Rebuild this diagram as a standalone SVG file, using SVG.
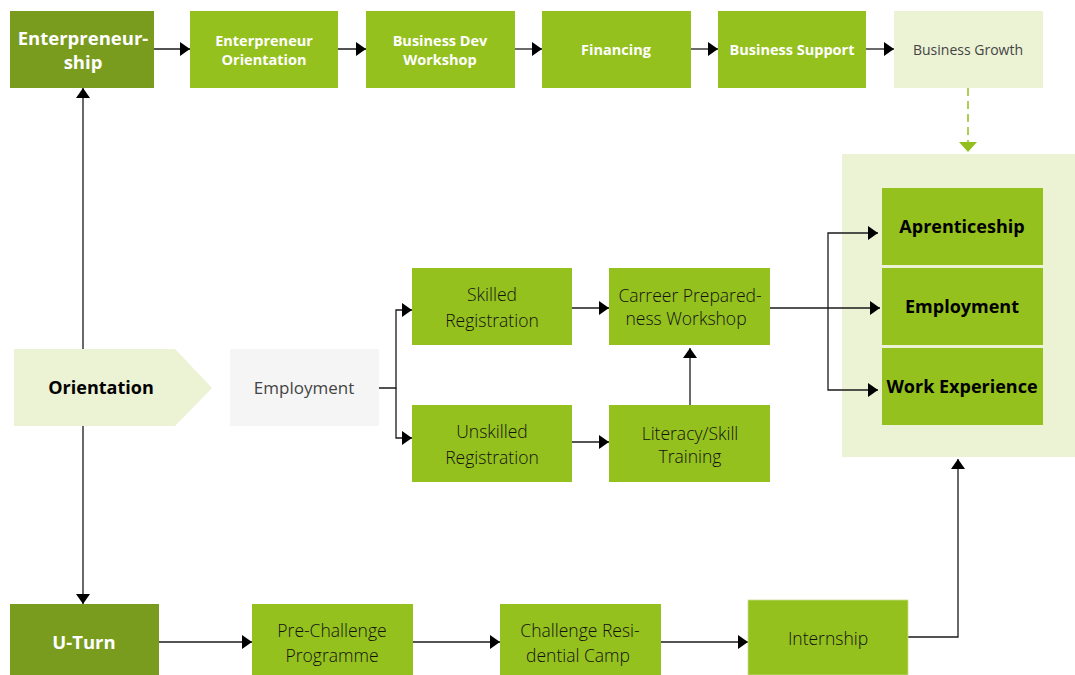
<svg xmlns="http://www.w3.org/2000/svg" width="1075" height="675" viewBox="0 0 1075 675">
<defs>
<marker id="ah" viewBox="0 0 10 14" refX="10" refY="7" markerWidth="10" markerHeight="14" orient="auto" markerUnits="userSpaceOnUse"><path d="M0,0 L10,7 L0,14 z" fill="#000"/></marker>
<marker id="ahg" viewBox="0 0 10 18" refX="10" refY="9" markerWidth="10" markerHeight="18" orient="auto" markerUnits="userSpaceOnUse"><path d="M0,0 L10,9 L0,18 z" fill="#93c01f"/></marker>
</defs>
<style>
.dark{fill:#7a9c1e}
.green{fill:#94c11e}
.light{fill:#ecf2d4}
.grey{fill:#f5f5f5}
text{font-family:"Open Sans","Liberation Sans",sans-serif;text-anchor:middle}
.wb{fill:#fff;font-weight:700;font-size:14.5px}
.wbl{fill:#fff;font-weight:700;font-size:18.5px}
.kb{fill:#000;font-weight:700;font-size:18px}
.t{fill:#111;font-weight:300;font-size:17.5px}
.g{fill:#444;font-size:14px}
.c{fill:none;stroke:#1a1a1a;stroke-width:1.3}
</style>
<rect id="container" class="light" x="842" y="154" width="233" height="303"/>
<g id="connectors">
<line class="c" x1="154" y1="49" x2="190" y2="49" marker-end="url(#ah)"/>
<line class="c" x1="328" y1="49" x2="366" y2="49" marker-end="url(#ah)"/>
<line class="c" x1="515" y1="49" x2="542" y2="49" marker-end="url(#ah)"/>
<line class="c" x1="691" y1="49" x2="718" y2="49" marker-end="url(#ah)"/>
<line class="c" x1="866" y1="49" x2="894" y2="49" marker-end="url(#ah)"/>
<line x1="968" y1="88" x2="968" y2="152" stroke="#93c01f" stroke-width="1.5" stroke-dasharray="8,5" marker-end="url(#ahg)"/>
<line class="c" x1="83" y1="349" x2="83" y2="88" marker-end="url(#ah)"/>
<line class="c" x1="83" y1="426" x2="83" y2="604" marker-end="url(#ah)"/>
<polyline class="c" points="379,388 396,388 396,310 412,310" marker-end="url(#ah)"/>
<polyline class="c" points="396,388 396,438 412,438" marker-end="url(#ah)"/>
<line class="c" x1="572" y1="308" x2="609" y2="308" marker-end="url(#ah)"/>
<line class="c" x1="572" y1="442" x2="609" y2="442" marker-end="url(#ah)"/>
<line class="c" x1="690" y1="405" x2="690" y2="348" marker-end="url(#ah)"/>
<line class="c" x1="770" y1="308" x2="880" y2="308" marker-end="url(#ah)"/>
<polyline class="c" points="828,308 828,233 878,233" marker-end="url(#ah)"/>
<polyline class="c" points="828,308 828,390 878,390" marker-end="url(#ah)"/>
<line class="c" x1="159" y1="642" x2="252" y2="642" marker-end="url(#ah)"/>
<line class="c" x1="413" y1="642" x2="500" y2="642" marker-end="url(#ah)"/>
<line class="c" x1="661" y1="642" x2="748" y2="642" marker-end="url(#ah)"/>
<polyline class="c" points="908,637 958,637 958,459" marker-end="url(#ah)"/>
</g>
<g id="enterpreneurship"><rect class="dark" x="10" y="11" width="144" height="77"/><text class="wbl" x="83" y="45">Enterpreneur-</text><text class="wbl" x="83" y="69">ship</text></g>
<g id="ent-orientation"><rect class="green" x="190" y="11" width="148" height="77"/><text class="wb" x="264" y="46">Enterpreneur</text><text class="wb" x="264" y="65">Orientation</text></g>
<g id="bizdev"><rect class="green" x="366" y="11" width="149" height="77"/><text class="wb" x="440" y="46">Business Dev</text><text class="wb" x="440" y="65">Workshop</text></g>
<g id="financing"><rect class="green" x="542" y="11" width="149" height="77"/><text class="wb" x="616" y="55">Financing</text></g>
<g id="bizsupport"><rect class="green" x="718" y="11" width="148" height="77"/><text class="wb" x="792" y="55">Business Support</text></g>
<g id="bizgrowth"><rect class="light" x="894" y="11" width="149" height="77"/><text class="g" x="968" y="55">Business Growth</text></g>
<g id="orientation"><path class="light" d="M14,349 L175,349 L212,388 L175,426 L14,426 z"/><text class="kb" x="101" y="394">Orientation</text></g>
<g id="employment-hub"><rect class="grey" x="230" y="349" width="149" height="77"/><text class="g" style="font-size:17px" x="304" y="394">Employment</text></g>
<g id="skilled"><rect class="green" x="412" y="268" width="160" height="77"/><text class="t" x="492" y="301">Skilled</text><text class="t" x="492" y="327">Registration</text></g>
<g id="unskilled"><rect class="green" x="412" y="405" width="160" height="77"/><text class="t" x="492" y="438">Unskilled</text><text class="t" x="492" y="464">Registration</text></g>
<g id="carreer"><rect class="green" x="609" y="268" width="161" height="77"/><text class="t" x="690" y="302">Carreer Prepared-</text><text class="t" x="686" y="325">ness Workshop</text></g>
<g id="literacy"><rect class="green" x="609" y="405" width="161" height="77"/><text class="t" x="690" y="440">Literacy/Skill</text><text class="t" x="690" y="463">Training</text></g>
<g id="aprenticeship"><rect class="green" x="882" y="188" width="161" height="77"/><text class="kb" x="962" y="233">Aprenticeship</text></g>
<g id="employment"><rect class="green" x="882" y="268" width="161" height="77"/><text class="kb" x="962" y="313">Employment</text></g>
<g id="work-experience"><rect class="green" x="882" y="348" width="161" height="77"/><text class="kb" x="962" y="393">Work Experience</text></g>
<g id="uturn"><rect class="dark" x="10" y="604" width="149" height="71"/><text class="wbl" x="84" y="649">U-Turn</text></g>
<g id="prechallenge"><rect class="green" x="252" y="604" width="161" height="71"/><text class="t" x="332" y="637">Pre-Challenge</text><text class="t" x="332" y="662">Programme</text></g>
<g id="challenge"><rect class="green" x="500" y="604" width="161" height="71"/><text class="t" x="580" y="637">Challenge Resi-</text><text class="t" x="578" y="662">dential Camp</text></g>
<g id="internship"><rect class="green" x="748" y="600" width="160" height="75" stroke="#c8dc8a" stroke-width="0.8"/><text class="t" x="828" y="645">Internship</text></g>
</svg>
